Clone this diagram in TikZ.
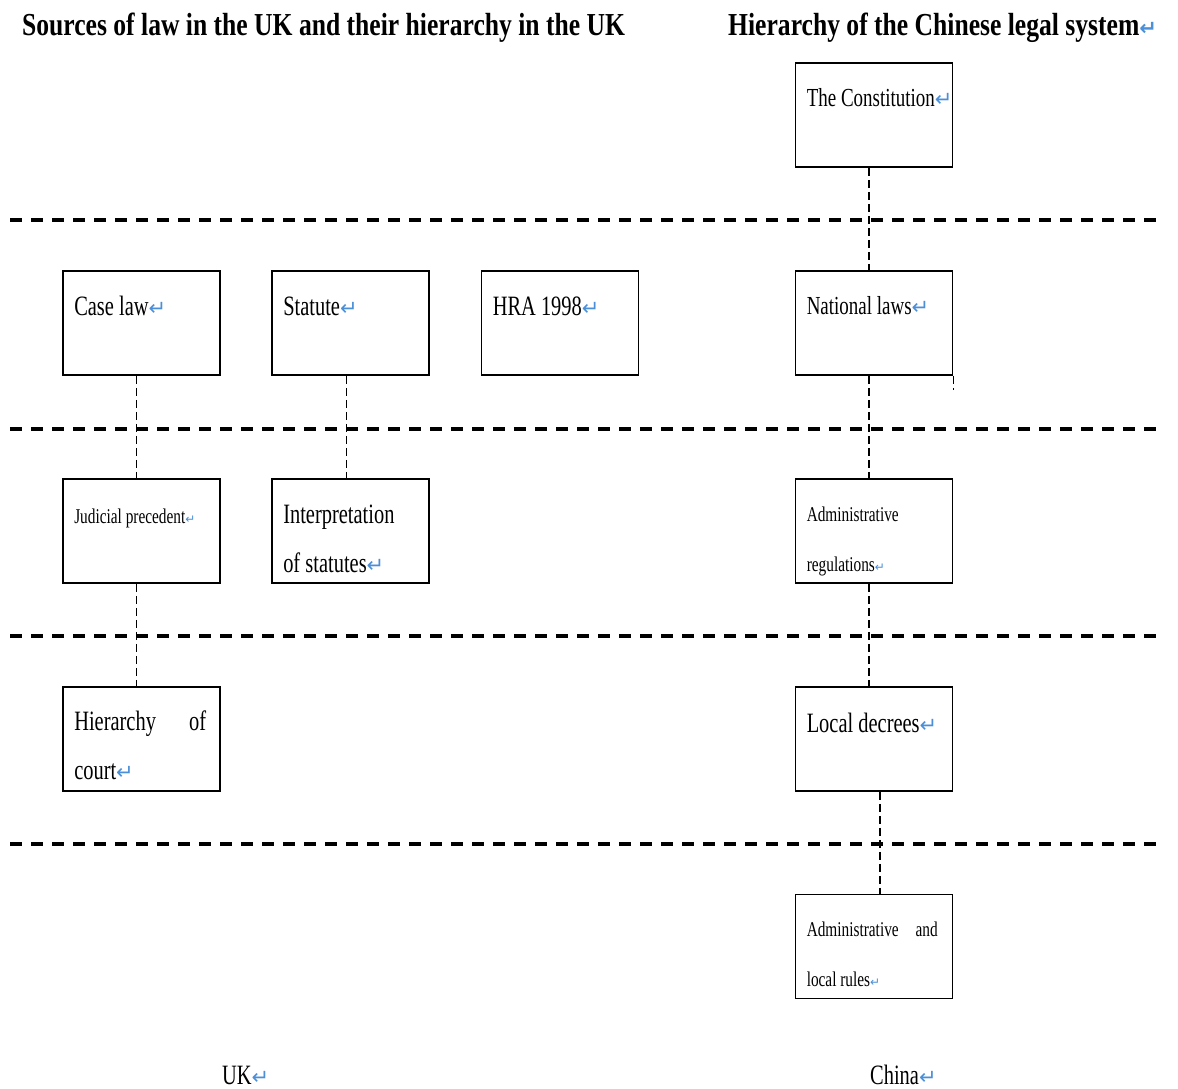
\documentclass[tikz,border=0pt]{standalone}
\usepackage{fontspec}
\usepackage{tikz}
\usetikzlibrary{positioning,calc}
\setmainfont{Liberation Serif}
\newfontfamily\condfont[FakeStretch=0.73]{Liberation Serif}
\newfontfamily\headfont[FakeStretch=0.8]{Liberation Serif}
\newfontfamily\markfont{DejaVu Sans}
\definecolor{markblue}{HTML}{4A8FD8}
\newcommand{\parmk}{{\color{markblue}\markfont\fontsize{21}{21}\selectfont ↵}}
\newcommand{\smallmk}{{\color{markblue}\markfont\fontsize{12}{12}\selectfont ↵}}

\begin{document}
\begin{tikzpicture}[x=1pt,y=-1pt,
  box/.style={draw,line width=1.9pt,minimum width=157pt,minimum height=104pt,inner sep=0pt},
  sep/.style={line width=4pt,dash pattern=on 12pt off 9pt},
  link/.style={line width=1.3pt,dash pattern=on 8pt off 4pt},
  txt/.style={anchor=base west,inner sep=0pt,align=left},
  big/.style={txt,font=\condfont\fontsize{28}{49}\selectfont},
  roman/.style={txt,font=\condfont\fontsize{26}{49}\selectfont},
  small/.style={txt,font=\condfont\fontsize{21}{50}\selectfont},
  head/.style={anchor=base west,inner sep=0pt,font=\headfont\bfseries\fontsize{32}{36}\selectfont}
]
\useasboundingbox (0,0) rectangle (1178,1089);

% Titles
\node[head] (ukhead) at (22,36) {Sources of law in the UK and their hierarchy in the UK};
\node[head] (cnhead) at (728,36) {Hierarchy of the Chinese legal system\parmk};

% Level separators
\foreach \y in {220,429,636,844}
  \draw[sep] (10,\y) -- (1160,\y);

% UK boxes
\node[box] (case) at (141.5,323) {};
\node[box] (stat) at (350.5,323) {};
\node[box] (hra) at (560,323) {};
\node[box] (jud) at (141.5,531) {};
\node[box] (interp) at (350.5,531) {};
\node[box] (court) at (141.5,739) {};

% China boxes
\node[box] (cons) at (874,115) {};
\node[box] (natl) at (874,323) {};
\node[box] (admreg) at (874,531) {};
\node[box] (locdec) at (874,739) {};
\node[box] (admloc) at (874,946.5) {};

% Box texts (two-line texts sit on their last baseline)
\node[big] (caset) at ([shift={(12,45)}]case.north west) {Case law\parmk};
\node[big] (statt) at ([shift={(12,45)}]stat.north west) {Statute\parmk};
\node[big] (hrat) at ([shift={(12,45)}]hra.north west) {HRA 1998\parmk};
\node[small] (judt) at ([shift={(12,45)}]jud.north west) {Judicial precedent\smallmk};
\node[big] (interpt) at ([shift={(12,94)}]interp.north west) {Interpretation\\of statutes\parmk};
\node[big] (courtt) at ([shift={(12,93)}]court.north west) {\makebox[132pt][s]{Hierarchy of}\\court\parmk};
\node[roman] (const) at ([shift={(12,44)}]cons.north west) {The Constitution\parmk};
\node[roman] (natlt) at ([shift={(12,44)}]natl.north west) {National laws\parmk};
\node[small] (admregt) at ([shift={(12,93)}]admreg.north west) {Administrative\\regulations\smallmk};
\node[big] (locdect) at ([shift={(12,46)}]locdec.north west) {Local decrees\parmk};
\node[small] (admloct) at ([shift={(12,93)}]admloc.north west) {\makebox[131pt][s]{Administrative and}\\local rules\smallmk};

% Captions
\node[big] (uk) at (222,1084) {UK\parmk};
\node[big] (china) at (870,1084) {China\parmk};

% Links
\draw[link] ([xshift=-5pt]case.south) -- ([xshift=-5pt]jud.north);
\draw[link] ([xshift=-5pt]jud.south) -- ([xshift=-5pt]court.north);
\draw[link] ([xshift=-4pt]stat.south) -- ([xshift=-4pt]interp.north);
\draw[link] ([xshift=-5pt]cons.south) -- ([xshift=-5pt]natl.north);
\draw[link] ([xshift=-5pt]natl.south) -- ([xshift=-5pt]admreg.north);
\draw[link] ([xshift=-5pt]admreg.south) -- ([xshift=-5pt]locdec.north);
\draw[link] ([xshift=6pt]locdec.south) -- ([xshift=6pt]admloc.north);
\draw[link] (natl.south east) -- ++(0,14);
\end{tikzpicture}
\end{document}
